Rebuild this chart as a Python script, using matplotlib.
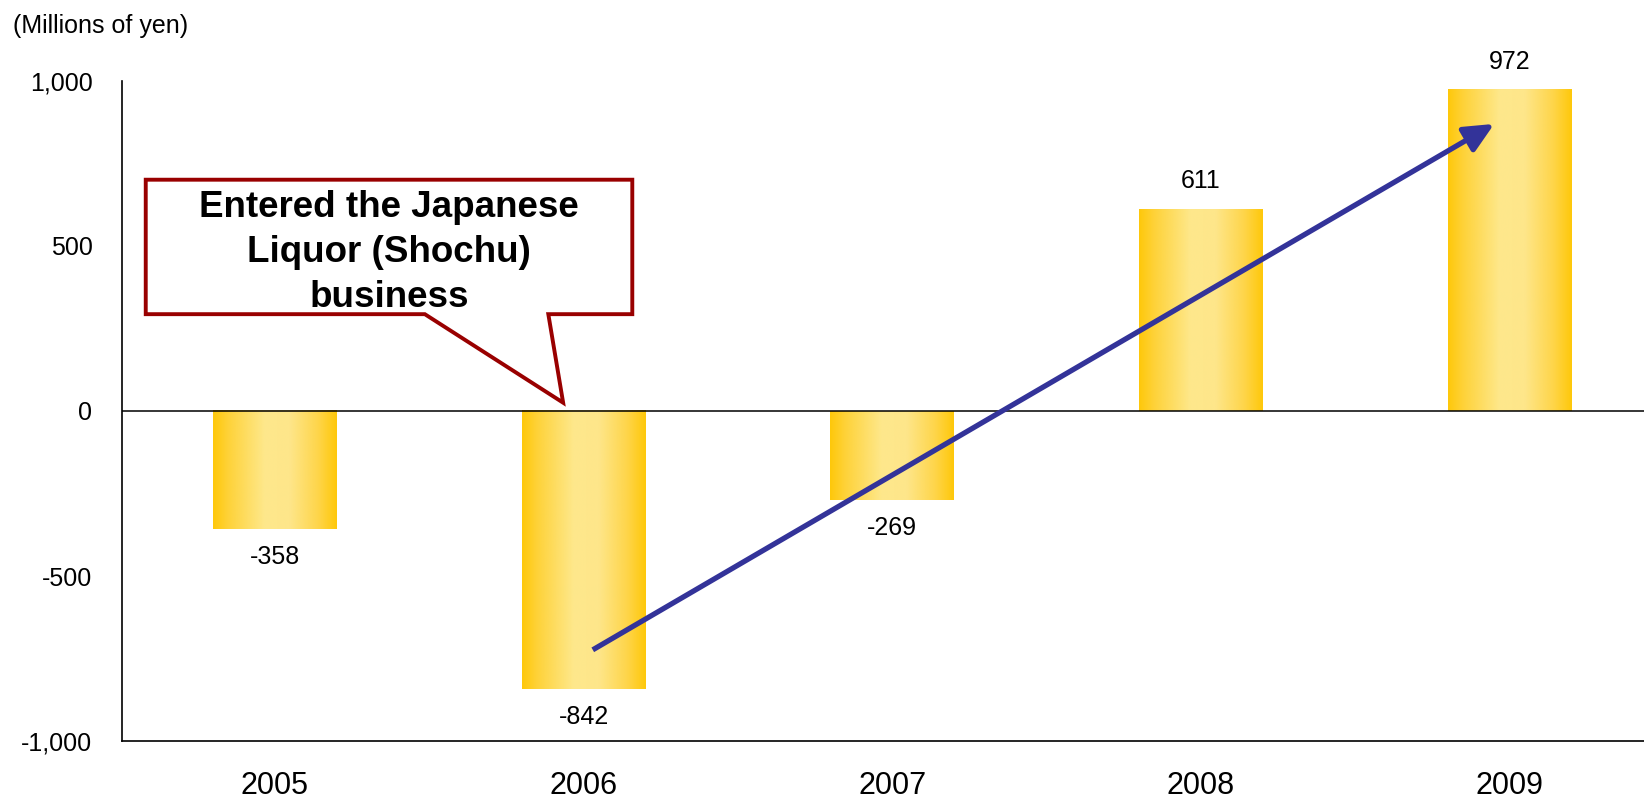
import numpy as np
import matplotlib
matplotlib.use("Agg")
import matplotlib.pyplot as plt
from matplotlib.colors import LinearSegmentedColormap
from matplotlib.patches import Polygon

plt.rcParams['font.family'] = ['Liberation Sans', 'DejaVu Sans']

years = ['2005', '2006', '2007', '2008', '2009']
profit = [-358, -842, -269, 611, 972]

callout_text = 'Entered the Japanese\nLiquor (Shochu)\nbusiness'

fig = plt.figure(figsize=(16.44, 7.98), dpi=100)
ax = fig.add_axes([0.074, 0.071, 0.926, 0.828])

x = np.arange(len(years))
bars = ax.bar(x, profit, width=0.40, color='none', edgecolor='none', zorder=2)

# horizontal gold gradient, dark at the edges and pale in the middle
gold = LinearSegmentedColormap.from_list(
    'gold', [(0.0, '#FFC80A'), (0.12, '#FED238'), (0.42, '#FEE88C'),
             (0.62, '#FEE68A'), (0.85, '#FED54A'), (1.0, '#FFC80A')])
grad = np.linspace(0, 1, 256).reshape(1, -1)
for b in bars:
    x0, y0 = b.get_x(), b.get_y()
    w, h = b.get_width(), b.get_height()
    ax.imshow(grad, cmap=gold, aspect='auto', interpolation='bicubic',
              extent=(x0, x0 + w, min(y0, y0 + h), max(y0, y0 + h)), zorder=2)

for xi, v in zip(x, profit):
    off = 20 if v > 0 else -20
    ax.annotate(f'{v:,}', (xi, v), xytext=(0, off), textcoords='offset points',
                ha='center', va='center', fontsize=18)

ax.axhline(0, color='black', lw=1.1, zorder=3)

ax.set_xlim(-0.496, 4.435)
ax.set_ylim(-1000, 1000)
ax.set_yticks([-1000, -500, 0, 500, 1000])
ax.set_yticklabels([f'{t:,}' for t in [-1000, -500, 0, 500, 1000]])
ax.set_xticks(x)
ax.set_xticklabels(years)
ax.tick_params(axis='y', length=0, pad=21, labelsize=18)
ax.tick_params(axis='x', length=0, pad=21, labelsize=22)
for s in ['top', 'right']:
    ax.spines[s].set_visible(False)
for s in ['left', 'bottom']:
    ax.spines[s].set_color('black')
    ax.spines[s].set_linewidth(1.2)

# growth arrow
ax.annotate('', xy=(3.95, 869), xytext=(1.03, -723),
            arrowprops=dict(arrowstyle='-|>,head_length=0.6,head_width=0.28',
                            color='#333399', lw=3.8, capstyle='butt',
                            mutation_scale=30, shrinkA=0, shrinkB=0), zorder=4)

# speech-bubble callout
bx0, bx1, by0, by1 = -0.418, 1.158, 293, 700
callout = Polygon([(bx0, by1), (bx1, by1), (bx1, by0), (0.886, by0),
                   (0.934, 25), (0.486, by0), (bx0, by0)],
                  closed=True, facecolor='white', edgecolor='#990000',
                  lw=2.8, joinstyle='miter', zorder=5)
ax.add_patch(callout)
ax.text((bx0 + bx1) / 2, (by0 + by1) / 2 - 17, callout_text, ha='center', va='center',
        fontsize=26.5, fontweight='bold', linespacing=1.36, zorder=6)

fig.text(0.008, 1 - 26 / 798, '(Millions of yen)', ha='left', va='center', fontsize=18)

fig.savefig('out.png', dpi=100)
